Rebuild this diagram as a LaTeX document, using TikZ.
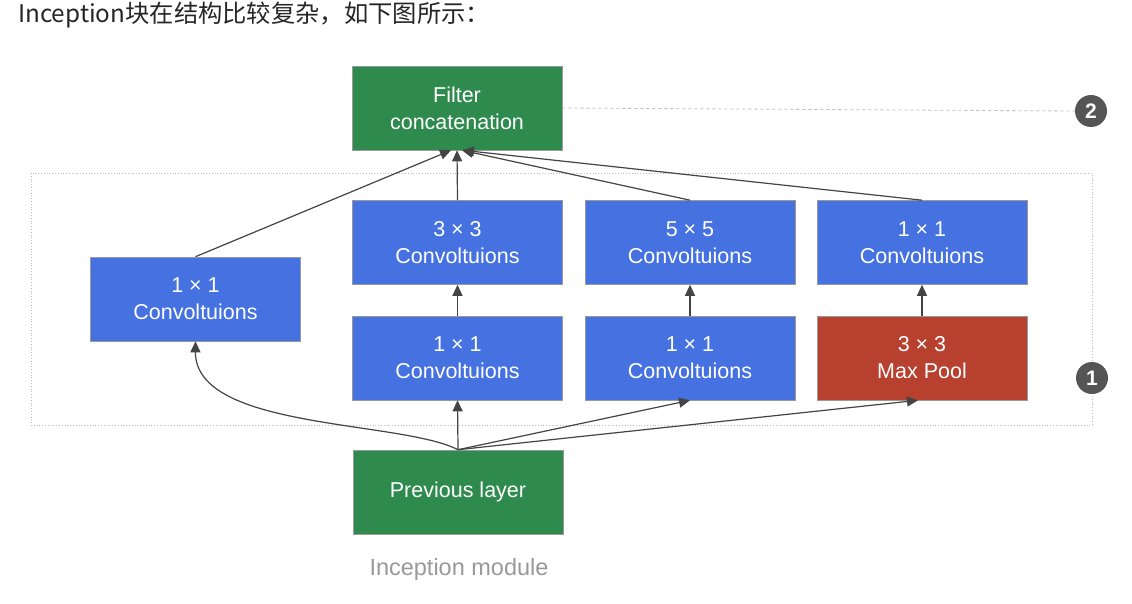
\documentclass[tikz,border=0pt]{standalone}
\usepackage{fontspec}
\setmainfont{Liberation Sans}
\newfontfamily\cjk{Noto Sans CJK SC}
\usetikzlibrary{arrows.meta}
\definecolor{gboxc}{HTML}{2F8A4E}
\definecolor{bboxc}{HTML}{4671E0}
\definecolor{rboxc}{HTML}{B7402F}
\definecolor{linec}{HTML}{444444}
\definecolor{circc}{HTML}{555555}
\definecolor{capc}{HTML}{999999}
\definecolor{dotc}{HTML}{BBBBBB}
\tikzset{
  blk/.style={minimum width=210pt, minimum height=84pt, inner sep=0pt, align=center,
    text=white, font=\fontsize{21.5}{27}\selectfont, draw=black!40, line width=0.6pt},
  gblk/.style={blk, fill=gboxc},
  bblk/.style={blk, fill=bboxc},
  rblk/.style={blk, fill=rboxc},
  conn/.style={draw=linec, line width=1.2pt, -{Triangle[length=11pt,width=10pt]}},
  badge/.style={circle, fill=circc, text=white, minimum size=32pt, inner sep=0pt,
    font=\bfseries\fontsize{21}{21}\selectfont},
}
\begin{document}
\begin{tikzpicture}[x=1pt,y=-1pt]
\useasboundingbox (0,0) rectangle (1132,604);
\fill[white] (0,0) rectangle (1132,604);
% title
\node[anchor=base west, inner sep=0pt, font=\cjk\fontsize{24.3}{24.3}\selectfont, text=black!85] (title) at (18,23) {Inception块在结构比较复杂，如下图所示：};
% dotted module frame
\draw[dotc, dotted, line width=0.8pt] (31,173) rectangle (1092,425);
% nodes
\node[gblk] (filt) at (457,108) {Filter\\concatenation};
\node[bblk] (c1a) at (195.5,299) {1 × 1\\Convoltuions};
\node[bblk] (c3) at (457.5,242.5) {3 × 3\\Convoltuions};
\node[bblk] (c5) at (690,242.5) {5 × 5\\Convoltuions};
\node[bblk] (c1d) at (922,242.5) {1 × 1\\Convoltuions};
\node[bblk] (c1b) at (457.5,358) {1 × 1\\Convoltuions};
\node[bblk] (c1c) at (690,358) {1 × 1\\Convoltuions};
\node[rblk] (mp) at (922,358) {3 × 3\\Max Pool};
\node[gblk] (prev) at (458,492) {Previous layer};
\node[text=capc, font=\fontsize{23.5}{23.5}\selectfont] (cap) at (459,569) {Inception module};
% badges
\node[badge] (b2) at (1091,111) {2};
\node[badge] (b1) at (1092,378) {1};
\draw[dotc, dashed, line width=0.8pt] (filt.east) -- (b2.west);
% top connectors
\draw[conn] (c1a.north) -- ([xshift=-6pt]filt.south);
\draw[conn] (c3.north) -- (filt.south);
\draw[conn] (c5.north) -- ([xshift=5pt]filt.south);
\draw[conn] (c1d.north) -- ([xshift=6pt]filt.south);
% middle connectors
\draw[conn] (c1b.north) -- (c3.south);
\draw[conn] (c1c.north) -- (c5.south);
\draw[conn] (mp.north) -- (c1d.south);
% bottom connectors
\draw[conn] (prev.north) .. controls (400,420) and (195,430) .. (c1a.south);
\draw[conn] (prev.north) -- (c1b.south);
\draw[conn] (prev.north) -- (c1c.south);
\draw[conn] (prev.north) -- ([xshift=-4pt]mp.south);
\end{tikzpicture}
\end{document}
